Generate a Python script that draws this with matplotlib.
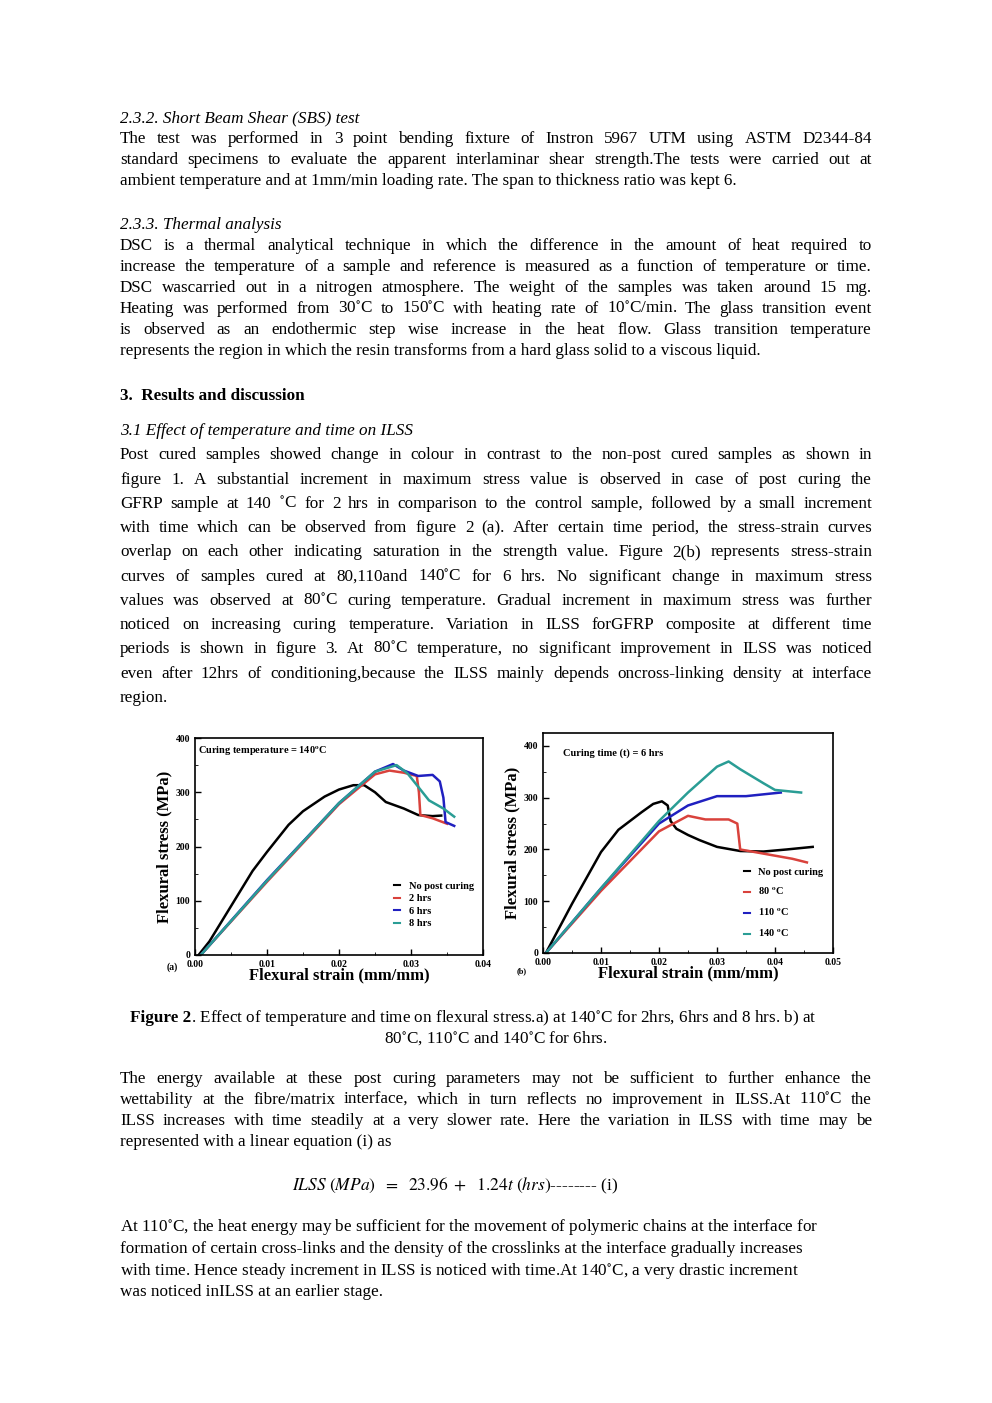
import matplotlib
matplotlib.use("Agg")
import matplotlib.pyplot as plt
from matplotlib.ticker import MultipleLocator

plt.rcParams['font.family'] = ['Liberation Serif', 'DejaVu Serif']
plt.rcParams['mathtext.fontset'] = 'stix'
W, H = 992, 1403
fig = plt.figure(figsize=(9.92, 14.03), dpi=100)
renderer = fig.canvas.get_renderer()

def T(x, y, s, **kw):
    kw.setdefault('fontsize', 12.3)
    return fig.text(x / W, 1 - y / H, s, va='baseline', ha=kw.pop('ha', 'left'), **kw)

def J(y, s, x0=120, x1=872, **kw):
    words = s.split(' ')
    objs = [T(x0, y, w, **kw) for w in words]
    widths = [o.get_window_extent(renderer).width for o in objs]
    gap = (x1 - x0 - sum(widths)) / max(len(words) - 1, 1)
    x = x0
    for o, w in zip(objs, widths):
        o.set_x(x / W)
        x += w + gap

# (y, text, justify, style)
lines = [
    (122, "2.3.2. Short Beam Shear (SBS) test", False, dict(style='italic')),
    (143, "The test was performed in 3 point bending fixture of Instron 5967 UTM using ASTM D2344-84", True, {}),
    (164, "standard specimens to evaluate the apparent interlaminar shear strength.The tests were carried out at", True, {}),
    (185, "ambient temperature and at 1mm/min loading rate. The span to thickness ratio was kept 6.", False, {}),
    (229, "2.3.3. Thermal analysis", False, dict(style='italic')),
    (250, "DSC is a thermal analytical technique in which the difference in the amount of heat required to", True, {}),
    (271, "increase the temperature of a sample and reference is measured as a function of temperature or time.", True, {}),
    (292, "DSC wascarried out in a nitrogen atmosphere. The weight of the samples was taken around 15 mg.", True, {}),
    (313, "Heating was performed from 30$^{\\circ}$C to 150$^{\\circ}$C with heating rate of 10$^{\\circ}$C/min. The glass transition event", True, {}),
    (334, "is observed as an endothermic step wise increase in the heat flow. Glass transition temperature", True, {}),
    (355, "represents the region in which the resin transforms from a hard glass solid to a viscous liquid.", False, {}),
    (400, "3.  Results and discussion", False, dict(weight='bold')),
    (435, "3.1 Effect of temperature and time on ILSS", False, dict(style='italic')),
    (459, "Post cured samples showed change in colour in contrast to the non-post cured samples as shown in", True, {}),
    (484, "figure 1. A substantial increment in maximum stress value is observed in case of post curing the", True, {}),
    (508, "GFRP sample at 140 $^{\\circ}$C for 2 hrs in comparison to the control sample, followed by a small increment", True, {}),
    (532, "with time which can be observed from figure 2 (a). After certain time period, the stress-strain curves", True, {}),
    (556, "overlap on each other indicating saturation in the strength value. Figure 2(b) represents stress-strain", True, {}),
    (581, "curves of samples cured at 80,110and 140$^{\\circ}$C for 6 hrs. No significant change in maximum stress", True, {}),
    (605, "values was observed at 80$^{\\circ}$C curing temperature. Gradual increment in maximum stress was further", True, {}),
    (629, "noticed on increasing curing temperature. Variation in ILSS forGFRP composite at different time", True, {}),
    (653, "periods is shown in figure 3. At 80$^{\\circ}$C temperature, no significant improvement in ILSS was noticed", True, {}),
    (678, "even after 12hrs of conditioning,because the ILSS mainly depends oncross-linking density at interface", True, {}),
    (702, "region.", False, {}),
    (1083, "The energy available at these post curing parameters may not be sufficient to further enhance the", True, {}),
    (1104, "wettability at the fibre/matrix interface, which in turn reflects no improvement in ILSS.At 110$^{\\circ}$C the", True, {}),
    (1125, "ILSS increases with time steadily at a very slower rate. Here the variation in ILSS with time may be", True, {}),
    (1146, "represented with a linear equation (i) as", False, {}),
    (1231, "At 110$^{\\circ}$C, the heat energy may be sufficient for the movement of polymeric chains at the interface for", False, {}),
    (1253, "formation of certain cross-links and the density of the crosslinks at the interface gradually increases", False, {}),
    (1275, "with time. Hence steady increment in ILSS is noticed with time.At 140$^{\\circ}$C, a very drastic increment", False, {}),
    (1296, "was noticed inILSS at an earlier stage.", False, {}),
]
for y, s, just, kw in lines:
    if just:
        J(y, s, **kw)
    else:
        T(120, y, s, **kw)

t1 = T(130, 1022, "Figure 2", weight='bold')
w1 = t1.get_window_extent(renderer).width
T(130 + w1, 1022, ". Effect of temperature and time on flexural stress.a) at 140$^{\\circ}$C for 2hrs, 6hrs and 8 hrs. b) at")
T(496, 1043, "80$^{\\circ}$C, 110$^{\\circ}$C and 140$^{\\circ}$C for 6hrs.", ha='center')
T(292, 1190, "$ILSS\\ (MPa)\\ \\ =\\ \\ 23.96\\ +\\ \\ 1.24t\\ (hrs)$-------- (i)", fontsize=12.5)

# ---- data, panel (a)
a_np_x = [0.0005, 0.002, 0.005, 0.008, 0.01, 0.013, 0.015, 0.018, 0.02, 0.022, 0.0235, 0.025, 0.0265, 0.029, 0.031, 0.033, 0.0342]
a_np_y = [0, 25, 90, 155, 190, 240, 265, 292, 305, 313, 313, 300, 282, 270, 258, 256, 257]
a_2h_x = [0.0008, 0.01, 0.02, 0.025, 0.027, 0.029, 0.0308, 0.0311, 0.0313, 0.033, 0.035]
a_2h_y = [0, 135, 278, 333, 340, 336, 330, 300, 258, 252, 242]
a_6h_x = [0.0008, 0.01, 0.02, 0.025, 0.0275, 0.029, 0.031, 0.033, 0.034, 0.0345, 0.0348, 0.036]
a_6h_y = [0, 138, 280, 338, 352, 340, 330, 332, 320, 290, 245, 238]
a_8h_x = [0.0008, 0.01, 0.02, 0.025, 0.028, 0.0295, 0.031, 0.0325, 0.0345, 0.036]
a_8h_y = [0, 137, 280, 338, 350, 335, 310, 285, 270, 255]
a_labels = ["No post curing", "2 hrs", "6 hrs", "8 hrs"]
# ---- data, panel (b)
b_np_x = [0.0005, 0.005, 0.01, 0.013, 0.015, 0.017, 0.019, 0.0205, 0.0215, 0.022, 0.023, 0.025, 0.027, 0.03, 0.034, 0.038, 0.042, 0.0465]
b_np_y = [0, 95, 195, 238, 255, 272, 288, 293, 285, 255, 240, 228, 218, 205, 197, 196, 200, 205]
b_80_x = [0.0005, 0.01, 0.02, 0.025, 0.028, 0.032, 0.0335, 0.034, 0.038, 0.043, 0.0455]
b_80_y = [0, 120, 235, 265, 258, 258, 250, 200, 192, 182, 175]
b_110_x = [0.0005, 0.01, 0.02, 0.025, 0.03, 0.035, 0.041]
b_110_y = [0, 125, 250, 285, 303, 303, 310]
b_140_x = [0.0005, 0.01, 0.02, 0.025, 0.03, 0.032, 0.034, 0.038, 0.040, 0.0445]
b_140_y = [0, 125, 255, 310, 360, 370, 355, 328, 315, 310]
b_labels = ["No post curing", "80 $^{\\mathbf{o}}$C", "110 $^{\\mathbf{o}}$C", "140 $^{\\mathbf{o}}$C"]

def setup(ax, xmax, ymax, xstep):
    ax.set_xlim(0, xmax); ax.set_ylim(0, ymax)
    ax.xaxis.set_major_locator(MultipleLocator(xstep))
    ax.xaxis.set_minor_locator(MultipleLocator(xstep / 2))
    ax.yaxis.set_major_locator(MultipleLocator(100))
    ax.yaxis.set_minor_locator(MultipleLocator(50))
    ax.tick_params(direction='in', labelsize=7, width=1, length=4)
    ax.tick_params(which='minor', direction='in', length=2)
    for lab in ax.get_xticklabels() + ax.get_yticklabels():
        lab.set_fontweight('bold')
    for s in ax.spines.values():
        s.set_linewidth(1.2)
    ax.set_xlabel("Flexural strain (mm/mm)", fontsize=12, fontweight='bold', labelpad=-1)
    ax.set_ylabel("Flexural stress (MPa)", fontsize=12, fontweight='bold', labelpad=2)

def ax_px(l, t, r, b):
    return fig.add_axes([l / W, 1 - b / H, (r - l) / W, (b - t) / H])

axa = ax_px(195, 738, 483, 955)
series_a = [(a_np_x, a_np_y, 'black'), (a_2h_x, a_2h_y, '#d9423c'),
            (a_6h_x, a_6h_y, '#2020c0'), (a_8h_x, a_8h_y, '#2a9d95')]
for (x, y, c), lab in zip(series_a, a_labels):
    axa.plot(x, y, color=c, lw=1.8, label=lab)
setup(axa, 0.04, 400, 0.01)
axa.text(0.01, 0.97, "Curing temperature = 140$^{\\mathbf{o}}$C", transform=axa.transAxes, fontsize=7.5, fontweight='bold', va='top')
axa.text(-0.1, -0.07, "(a)", transform=axa.transAxes, fontsize=7, fontweight='bold')
leg = axa.legend(loc='lower right', bbox_to_anchor=(1.0, 0.08), frameon=False, handlelength=0.6,
                 labelspacing=0.3, prop=dict(weight='bold', size=7.5))
for h in leg.legend_handles:
    h.set_linewidth(1.5)

axb = ax_px(543, 733, 833, 953)
series_b = [(b_np_x, b_np_y, 'black'), (b_80_x, b_80_y, '#d9423c'),
            (b_110_x, b_110_y, '#2020c0'), (b_140_x, b_140_y, '#2a9d95')]
for (x, y, c), lab in zip(series_b, b_labels):
    axb.plot(x, y, color=c, lw=1.8, label=lab)
setup(axb, 0.05, 425, 0.01)
axb.text(0.07, 0.93, "Curing time (t) = 6 hrs", transform=axb.transAxes, fontsize=7.5, fontweight='bold', va='top')
axb.text(-0.09, -0.09, "(b)", transform=axb.transAxes, fontsize=6, fontweight='bold')
leg = axb.legend(loc='lower right', bbox_to_anchor=(1.0, 0.02), frameon=False, handlelength=0.6,
                 labelspacing=0.9, prop=dict(weight='bold', size=7.5))
for h in leg.legend_handles:
    h.set_linewidth(1.5)

fig.savefig("out.png", dpi=100)
